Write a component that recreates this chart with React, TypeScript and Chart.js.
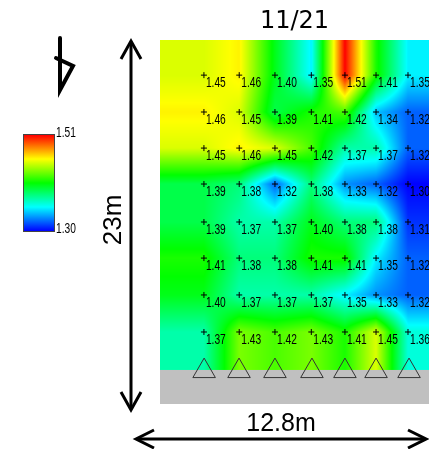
import React, { useEffect, useRef } from "react";
import { Chart, registerables } from "chart.js";

Chart.register(...registerables);

const titleText = "11/21";
const heightLabel = "23m";
const widthLabel = "12.8m";
const colorTicks = ["1.51", "1.30"];
const scaleMin = 1.3;
const scaleMax = 1.51;

// sensor positions in metres
const sensorX = [2.09, 3.77, 5.47, 7.2, 8.8, 10.28, 11.8];
const sensorY = [20.78, 18.45, 16.17, 13.9, 11.5, 9.22, 6.89, 4.55];
const baseX = [2.1, 3.76, 5.47, 7.23, 8.8, 10.28, 11.85];
const groundTop = 2.15;

const row1 = [1.45, 1.46, 1.4, 1.35, 1.51, 1.41, 1.35];
const row2 = [1.46, 1.45, 1.39, 1.41, 1.42, 1.34, 1.32];
const row3 = [1.45, 1.46, 1.45, 1.42, 1.37, 1.37, 1.32];
const row4 = [1.39, 1.38, 1.32, 1.38, 1.33, 1.32, 1.3];
const row5 = [1.39, 1.37, 1.37, 1.4, 1.38, 1.38, 1.31];
const row6 = [1.41, 1.38, 1.38, 1.41, 1.41, 1.35, 1.32];
const row7 = [1.4, 1.37, 1.37, 1.37, 1.35, 1.33, 1.32];
const row8 = [1.37, 1.43, 1.42, 1.43, 1.41, 1.45, 1.36];
const rows = [row1, row2, row3, row4, row5, row6, row7, row8];

const valueFormat = (v: number) => v.toFixed(2);

function jet(t: number): [number, number, number] {
  const c = Math.max(0, Math.min(1, t)) * 4;
  if (c < 1) return [0, Math.round(255 * c), 255];
  if (c < 2) return [0, 255, Math.round(255 * (2 - c))];
  if (c < 3) return [Math.round(255 * (c - 2)), 255, 0];
  return [255, Math.round(255 * (4 - c)), 0];
}

function segment(nodes: number[], v: number): [number, number] {
  if (v <= nodes[0]) return [0, 0];
  const n = nodes.length;
  if (v >= nodes[n - 1]) return [n - 2, 1];
  let i = 0;
  while (v > nodes[i + 1]) i++;
  return [i, (v - nodes[i]) / (nodes[i + 1] - nodes[i])];
}

const fieldPlugin = {
  id: "field",
  beforeDatasetsDraw(chart: any) {
    const { ctx, chartArea: a, scales } = chart;
    const sx = scales.x;
    const sy = scales.y;
    const w = Math.round(a.right - a.left);
    const h = Math.round(a.bottom - a.top);
    const img = ctx.createImageData(w, h);
    const yAsc = [...sensorY].reverse();
    const rAsc = [...rows].reverse();
    for (let py = 0; py < h; py++) {
      const vy = sy.getValueForPixel(a.top + py + 0.5);
      const [j, fy] = segment(yAsc, vy);
      for (let px = 0; px < w; px++) {
        const vx = sx.getValueForPixel(a.left + px + 0.5);
        const [i, fx] = segment(sensorX, vx);
        const v =
          rAsc[j][i] * (1 - fx) * (1 - fy) +
          rAsc[j][i + 1] * fx * (1 - fy) +
          rAsc[j + 1][i] * (1 - fx) * fy +
          rAsc[j + 1][i + 1] * fx * fy;
        const [r, g, b] = jet((v - scaleMin) / (scaleMax - scaleMin));
        const o = (py * w + px) * 4;
        img.data[o] = r;
        img.data[o + 1] = g;
        img.data[o + 2] = b;
        img.data[o + 3] = 255;
      }
    }
    ctx.putImageData(img, Math.round(a.left), Math.round(a.top));
    const gy = sy.getPixelForValue(groundTop);
    ctx.save();
    ctx.fillStyle = "#c0c0c0";
    ctx.fillRect(a.left, gy, a.right - a.left, a.bottom - gy);
    ctx.restore();
  },
};

function arrowHead(ctx: any, x: number, y: number, dx: number, dy: number, len: number, half: number) {
  ctx.beginPath();
  ctx.moveTo(x + dx * len - dy * half, y + dy * len - dx * half);
  ctx.lineTo(x, y);
  ctx.lineTo(x + dx * len + dy * half, y + dy * len + dx * half);
  ctx.stroke();
}

function narrowText(ctx: any, text: string, x: number, y: number) {
  ctx.save();
  ctx.translate(x, y);
  ctx.scale(0.68, 1);
  ctx.fillText(text, 0, 0);
  ctx.restore();
}

const decorPlugin = {
  id: "decor",
  afterDraw(chart: any) {
    const { ctx, scales } = chart;
    ctx.save();
    ctx.fillStyle = "#000";
    ctx.font = "15px 'Liberation Sans'";
    ctx.textAlign = "left";
    ctx.textBaseline = "middle";
    rows.forEach((row, j) =>
      row.forEach((v, i) => {
        narrowText(
          ctx,
          valueFormat(v),
          scales.x.getPixelForValue(sensorX[i]) + 2,
          scales.y.getPixelForValue(sensorY[j]) + 7.5,
        );
      }),
    );

    // colour bar
    const bx = 24, by = 135, bw = 30, bh = 96;
    const g = ctx.createLinearGradient(0, by, 0, by + bh);
    [
      [0, "#ff0000"],
      [0.25, "#ffff00"],
      [0.5, "#00ff00"],
      [0.75, "#00ffff"],
      [1, "#0000ff"],
    ].forEach(([o, c]) => g.addColorStop(o as number, c as string));
    ctx.fillStyle = g;
    ctx.fillRect(bx, by, bw, bh);
    ctx.strokeStyle = "#444";
    ctx.lineWidth = 1;
    ctx.strokeRect(bx - 0.5, by - 0.5, bw + 1, bh + 1);
    ctx.fillStyle = "#000";
    narrowText(ctx, colorTicks[0], 56, 133);
    narrowText(ctx, colorTicks[1], 56, 229);

    // dimension arrows
    ctx.strokeStyle = "#000";
    ctx.lineWidth = 3;
    ctx.lineCap = "butt";
    ctx.lineJoin = "miter";
    ctx.beginPath();
    ctx.moveTo(131, 42);
    ctx.lineTo(131, 409);
    ctx.moveTo(137, 439);
    ctx.lineTo(425, 439);
    ctx.stroke();
    arrowHead(ctx, 131, 41, 0, 1, 18, 10);
    arrowHead(ctx, 131, 410, 0, -1, 18, 10);
    arrowHead(ctx, 136, 439, 1, 0, 18, 9);
    arrowHead(ctx, 426, 439, -1, 0, 18, 9);

    // wind vane
    ctx.lineWidth = 4;
    ctx.lineCap = "round";
    ctx.beginPath();
    ctx.moveTo(60, 38);
    ctx.lineTo(60, 90);
    ctx.lineTo(73, 66);
    ctx.lineTo(56, 58);
    ctx.stroke();

    // dimension labels
    ctx.fillStyle = "#000";
    ctx.font = "25px 'Liberation Sans'";
    ctx.textAlign = "center";
    ctx.textBaseline = "middle";
    ctx.fillText(widthLabel, 281, 424);
    ctx.font = "26px 'Liberation Sans'";
    ctx.translate(114, 220);
    ctx.rotate(-Math.PI / 2);
    ctx.fillText(heightLabel, 0, 0);
    ctx.restore();
  },
};

export default function App() {
  const ref = useRef<HTMLCanvasElement>(null);
  useEffect(() => {
    document.body.style.margin = "0";
    const sensors = rows.flatMap((row, j) =>
      row.map((_, i) => ({ x: sensorX[i], y: sensorY[j] })),
    );
    const chart = new Chart(ref.current!, {
      type: "scatter",
      data: {
        datasets: [
          {
            label: "sensors",
            data: sensors,
            pointStyle: "cross",
            pointRadius: 3,
            pointBorderColor: "#000",
            pointBorderWidth: 1,
            showLine: false,
          },
          {
            label: "supports",
            data: baseX.map((x) => ({ x, y: 2.08 })),
            pointStyle: "triangle",
            pointRadius: 13,
            pointBorderColor: "#333",
            pointBackgroundColor: "rgba(0,0,0,0)",
            pointBorderWidth: 1,
            showLine: false,
          },
        ],
      },
      options: {
        responsive: false,
        animation: false,
        layout: { autoPadding: false, padding: { left: 160, right: 0, top: 0, bottom: 45 } },
        scales: {
          x: { type: "linear", min: 0, max: 12.8, display: false },
          y: { type: "linear", min: 0, max: 23, display: false },
        },
        plugins: {
          legend: { display: false },
          tooltip: { enabled: false },
          title: {
            display: true,
            text: titleText,
            fullSize: false,
            color: "#000",
            font: { family: "'DejaVu Sans'", size: 24, weight: "normal", lineHeight: 1.2 },
            padding: { top: 7, bottom: 4.2 },
          },
        },
      },
      plugins: [fieldPlugin, decorPlugin],
    } as any);
    return () => chart.destroy();
  }, []);
  return <canvas ref={ref} width={429} height={449} style={{ display: "block" }} />;
}
